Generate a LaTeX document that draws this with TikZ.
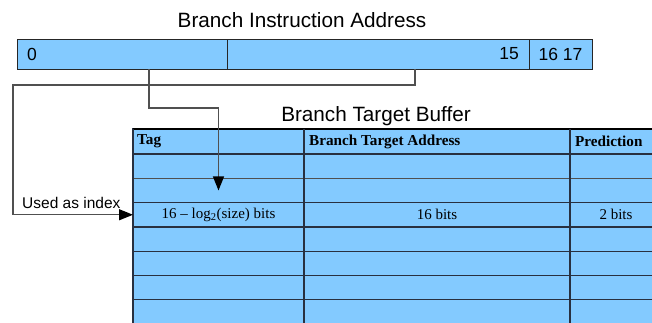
\documentclass[tikz,border=0pt]{standalone}
\usepackage{fontspec}
\setmainfont{Liberation Serif}
\newfontfamily\sansfont{Liberation Sans}
\usetikzlibrary{positioning,arrows.meta}
\definecolor{bufblue}{RGB}{131,202,255}
\definecolor{rowline}{RGB}{40,48,64}
\definecolor{linkgray}{RGB}{80,80,80}

\begin{document}
\begin{tikzpicture}[x=1pt,y=-1pt,
  field/.style={draw=black!85,fill=bufblue,line width=1pt,minimum height=30pt,inner sep=0pt,outer sep=0pt},
  cell/.style={draw=rowline,fill=bufblue,line width=1.2pt,inner sep=0pt,outer sep=0pt},
  link/.style={draw=linkgray,line width=1.2pt,-{Triangle[length=14pt,width=11pt,color=black]}},
  title/.style={font=\sansfont\fontsize{20.7}{24}\selectfont,inner sep=0pt,anchor=base},
  bitlabel/.style={font=\sansfont\fontsize{17.5}{20}\selectfont,inner sep=0pt},
  head/.style={font=\bfseries\fontsize{15.2}{18}\selectfont,inner sep=0pt,anchor=west},
  entry/.style={font=\fontsize{15}{18}\selectfont,inner sep=0pt}]
\useasboundingbox (0,0) rectangle (652,322);
\clip (0,0) rectangle (652,322);

% instruction address
\node[title] (iatitle) at (302,27) {Branch Instruction Address};
\node[field,minimum width=210pt,anchor=north west] (field0) at (17,39) {};
\node[field,minimum width=302pt,right=0pt of field0] (field1) {};
\node[field,minimum width=63pt,right=0pt of field1,bitlabel] (field2) {16 17};
\node[bitlabel,anchor=west] (bit0) at ([xshift=10pt]field0.west) {0};
\node[bitlabel,anchor=east] (bit15) at ([xshift=-10pt]field1.east) {15};

% branch target buffer
\node[title] (btbtitle) at (376,121) {Branch Target Buffer};
\node[cell,minimum width=171pt,minimum height=25pt,anchor=north west] (tag0) at (133,129) {};
\node[cell,minimum width=266pt,minimum height=25pt,right=0pt of tag0] (bta0) {};
\node[cell,minimum width=92pt,minimum height=25pt,right=0pt of bta0] (pred0) {};
\foreach \r [count=\p from 0] in {1,...,7}{
  \node[cell,minimum width=171pt,minimum height=24.3pt,below=0pt of tag\p] (tag\r) {};
  \node[cell,minimum width=266pt,minimum height=24.3pt,below=0pt of bta\p] (bta\r) {};
  \node[cell,minimum width=92pt,minimum height=24.3pt,below=0pt of pred\p] (pred\r) {};
}
\draw[linkgray,line width=1.3pt] (tag1.south west) -- (pred1.south east);
\draw[black,line width=2pt] (tag0.north west) -- (pred0.north east);
\draw[rowline,line width=1.8pt] (tag0.north east) -- (tag7.south east);
\draw[rowline,line width=1.8pt] (bta0.north east) -- (bta7.south east);
\draw[rowline,line width=1.6pt] (tag0.north west) -- (tag7.south west);

\node[head] (taghead) at ([xshift=4pt]tag0.west) {Tag};
\node[head] (btahead) at ([xshift=5pt]bta0.west) {Branch Target Address};
\node[head] (predhead) at ([xshift=5pt]pred0.west) {Prediction};
\node[entry] (tagbits) at (tag3.center) {16 -- log\textsubscript{2}(size) bits};
\node[entry] (btabits) at (bta3.center) {16 bits};
\node[entry] (predbits) at ([xshift=-46pt]pred3.east) {2 bits};

% connectors
\coordinate (tapA) at (149,69);
\coordinate (bendA) at (149,108);
\coordinate (tapB) at (415,69);
\coordinate (bendB) at (415,85);
\coordinate (cornerB) at (13,85);
\draw[link] (tapA) -- (bendA) -| (tag2.center);
\draw[link] (tapB) -- (bendB) -- (cornerB) |- (tag3.west);
\node[font=\sansfont\fontsize{15.5}{18}\selectfont,inner sep=0pt,anchor=base west] (index) at (22,208) {Used as index};
\end{tikzpicture}
\end{document}
